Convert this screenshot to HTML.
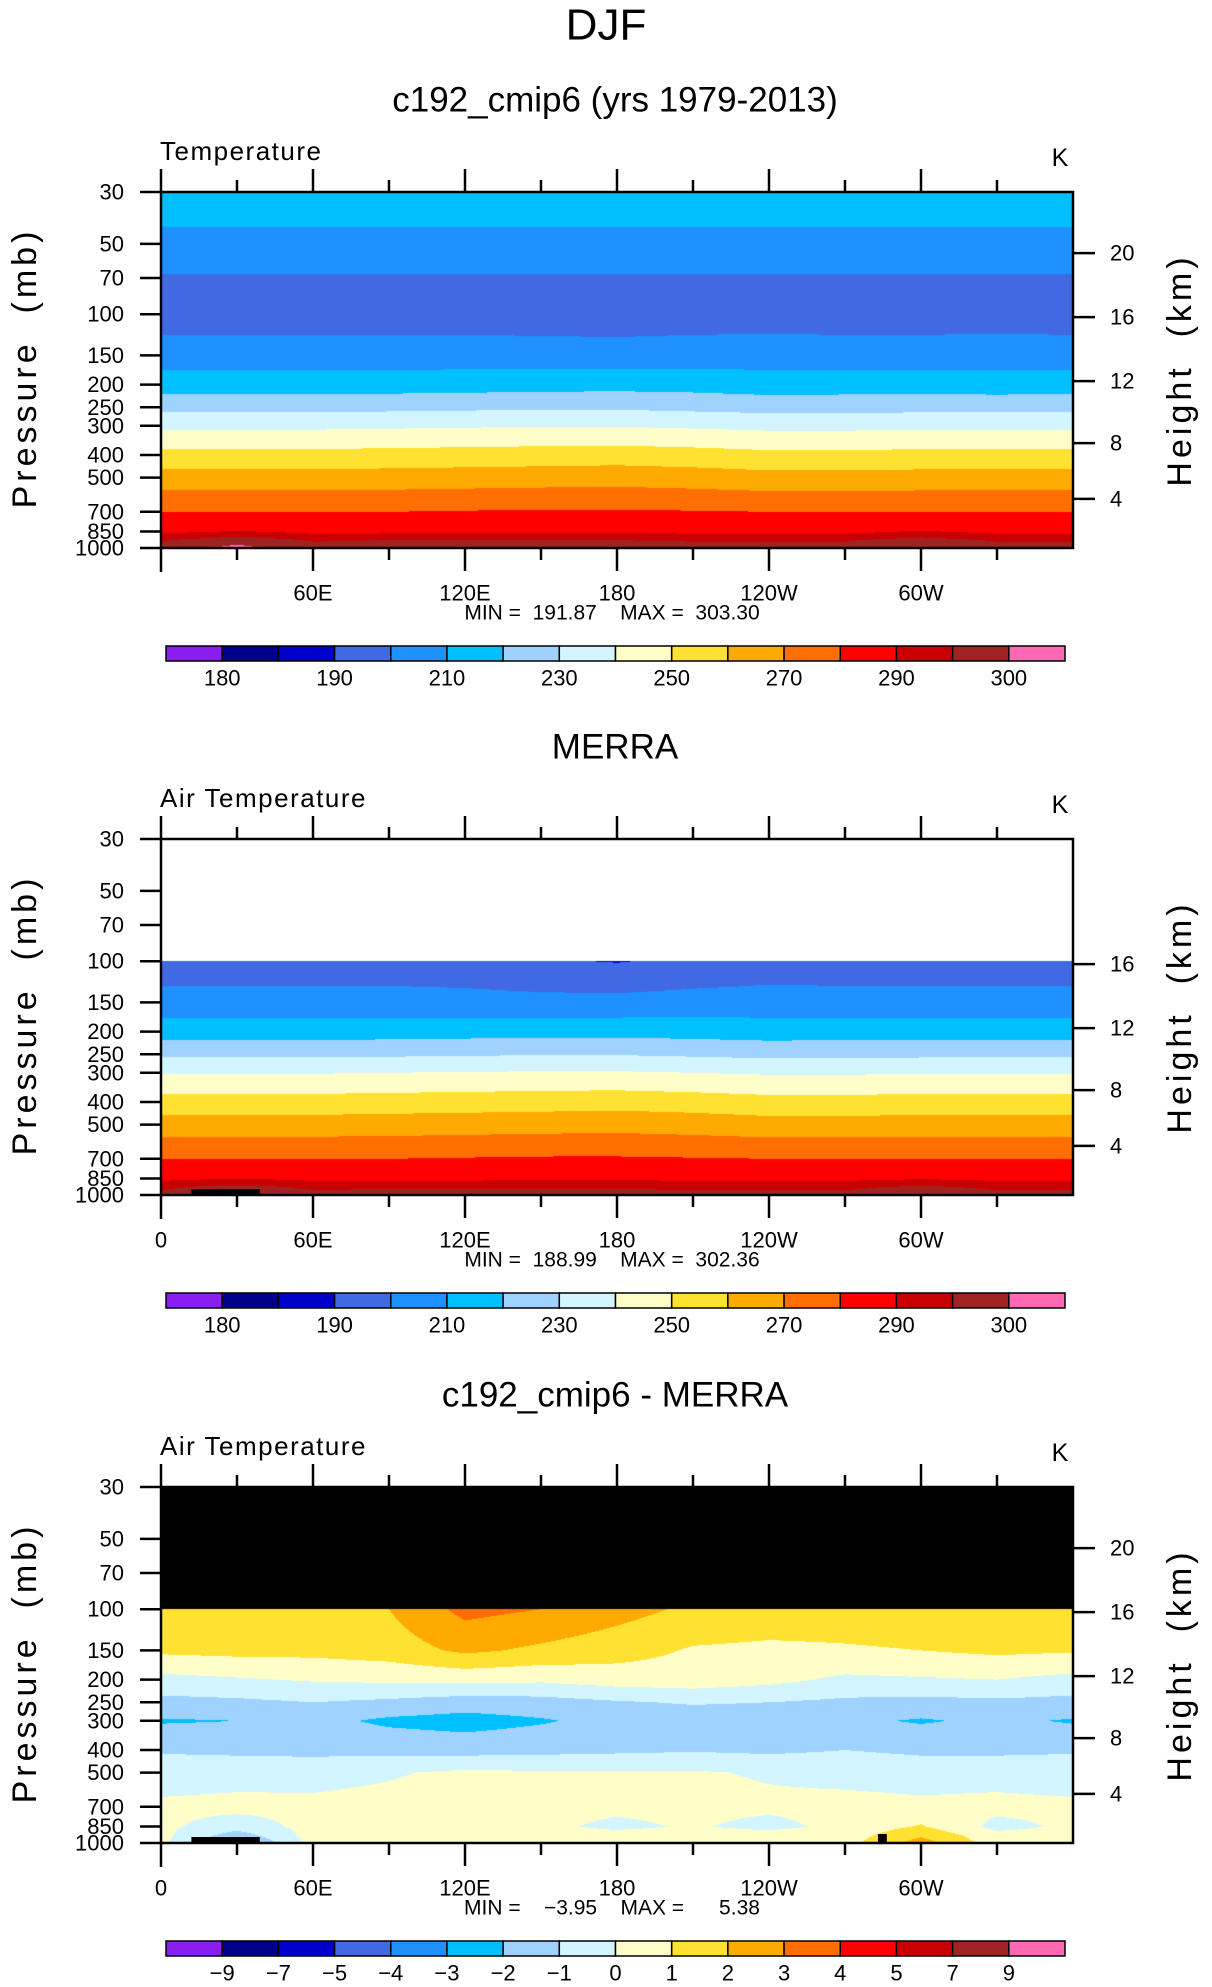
<!DOCTYPE html>
<html><head><meta charset="utf-8">
<style>
html,body{margin:0;padding:0;background:#fff;}
#root{position:relative;width:1212px;height:1987px;overflow:hidden;font-family:"Liberation Sans",sans-serif;}
canvas{position:absolute;}
svg{position:absolute;left:0;top:0;}
text{white-space:pre;}
</style></head>
<body>
<div id="root">
<canvas id="c1" width="912" height="356" style="left:161px;top:192px"></canvas>
<canvas id="c2" width="912" height="356" style="left:161px;top:839px"></canvas>
<canvas id="c3" width="912" height="356" style="left:161px;top:1487px"></canvas>
<svg id="ov" width="1212" height="1987"></svg>
</div>
<script>
// ---- data ----
const lons = [0,30,60,90,120,150,180,210,240,270,300,330,360];
const pressures = [30,50,70,100,150,200,250,300,400,500,700,850,925,1000];
const modelT = [
 [216,216,216,216,216,216,216,216,216,216,216,216,216],
 [207,207,207,207,207,207,207,207,207,207,207,207,207],
 [199,199,199,199,199,199,199,199,199,199,199,199,199],
 [195,195,195,195,195,195,195,195,195,195,195,195,195],
 [205,205,205,205,205,204.5,204,205,205.5,205,205,205.5,205],
 [215,215,215,215,215.5,216,216.5,216,214.5,215,215,214.5,215],
 [227,227,227,227.5,228,228.5,228.5,227.5,226.5,226.5,227,227,227],
 [238,238,238,238.5,239,239.5,239.5,238.5,237.5,237.5,238,238,238],
 [253,253,253,253.5,254,254.5,255,254,252.5,252.5,253,253,253],
 [264,264,264,264.5,265,265.5,266,265,263.5,263.5,264,264,264],
 [280,280,280,280,280.5,281,281,280.5,280,280,280,280,280],
 [288.5,290.5,288.5,288.5,288.5,289,289,288.5,288.5,288.5,290.5,288.5,288.5],
 [294.5,298,294.5,295,295,295,295,294.5,294.5,294.5,297,294.5,294.5],
 [297,301.5,297,297.5,297.5,297.5,297.5,297,297,297,300.5,297,297]
];
const merraT = [
 [null,null,null,null,null,null,null,null,null,null,null,null,null],
 [null,null,null,null,null,null,null,null,null,null,null,null,null],
 [null,null,null,null,null,null,null,null,null,null,null,null,null],
 [194,194,194,194,193.5,191,189.5,192,194,194,194,194,194],
 [204,204,204,204,203.5,203,203,204,204.5,204,204,204,204],
 [215.5,215.5,215.5,215.5,216,216.5,216.5,216,215,215.5,215.5,215,215.5],
 [228,228,228,228.5,229,229.5,229.5,228.5,227.5,227.5,228,228,228],
 [239.5,239.5,239.5,240,240.5,241,241,240,239,239,239.5,239.5,239.5],
 [254,254,254,254.5,255,255.5,256,255,253.5,253.5,254,254,254],
 [264.5,264.5,264.5,265,265.5,266,266.5,265.5,264,264,264.5,264.5,264.5],
 [280,280,280,280,280.5,281,281,280.5,280,280,280,280,280],
 [288.5,290,288.5,288.5,288.5,289,289,288.5,288.5,288.5,289.5,288.5,288.5],
 [294,297,294,294.5,294.5,294.5,294.5,294,294,294,296,294,294],
 [296.5,300.5,296.5,297,297,297,297,296.5,296.5,296.5,298.5,296.5,296.5]
];
const diffT = [
 [null,null,null,null,null,null,null,null,null,null,null,null,null],
 [null,null,null,null,null,null,null,null,null,null,null,null,null],
 [null,null,null,null,null,null,null,null,null,null,null,null,null],
 [1.5,1.6,1.7,2.0,3.3,3.0,2.4,1.8,1.6,1.5,1.6,1.8,1.5],
 [1.2,1.3,1.3,1.5,2.2,1.8,1.4,0.9,0.8,0.9,1.0,1.2,1.1],
 [-0.3,-0.1,0.1,0.2,0.3,0.2,0.5,0.6,0.3,-0.2,-0.1,0.0,-0.3],
 [-1.3,-1.2,-1.0,-1.2,-1.5,-1.4,-1.1,-0.9,-1.0,-1.2,-1.3,-1.2,-1.3],
 [-2.1,-2.0,-1.7,-2.2,-2.4,-2.1,-1.7,-1.6,-1.6,-1.8,-2.1,-1.8,-2.1],
 [-1.1,-1.2,-1.3,-1.3,-1.4,-1.3,-1.2,-1.1,-1.2,-1.0,-1.2,-1.2,-1.1],
 [-0.5,-0.4,-0.3,-0.1,0.2,0.1,0.1,0.1,-0.1,-0.3,-0.4,-0.4,-0.5],
 [0.2,0.3,0.2,0.3,0.4,0.3,0.2,0.3,0.2,0.3,0.2,0.3,0.2],
 [0.2,-0.5,0.3,0.1,0.3,0.2,-0.2,0.1,-0.3,0.3,1.1,-0.3,0.2],
 [0.3,-1.5,0.4,0.3,0.4,0.4,0.3,0.4,0.4,0.5,1.8,0.3,0.3],
 [0.3,-2.5,0.4,0.4,0.6,0.5,0.4,0.4,0.4,0.6,2.5,0.4,0.4]
];
const tempLevels = [180,185,190,200,210,220,230,240,250,260,270,280,290,295,300];
const tempLabels = ["180","","190","","210","","230","","250","","270","","290","","300"];
const diffLevels = [-9,-7,-5,-4,-3,-2,-1,0,1,2,3,4,5,7,9];
const diffLabels = ["−9","−7","−5","−4","−3","−2","−1","0","1","2","3","4","5","7","9"];
const palette = ["#8a1ef0","#00008c","#0000cd","#4169e1","#1e90ff","#00bfff","#a0d2ff","#d2f5ff","#fffdc8","#ffe132","#ffaa00","#ff6e00","#ff0000","#c80000","#a02323","#ff69b4"];
const pTicks = [30,50,70,100,150,200,250,300,400,500,700,850,1000];
const lonTicks = [0,60,120,180,240,300];
const lonTickLabels = ["0","60E","120E","180","120W","60W"];
const kmTicks1 = [4,8,12,16,20];
const kmTicks2 = [4,8,12,16];

// ---- geometry ----
const X0=161, W=912, H=356, PT=30, PB=1000;
const L=Math.log(PB/PT);
function yOfP(p){return Math.log(p/PT)/L*H;}
function xOfLon(l){return l/360*W;}
function pOfKm(z){ if(z<=11) return 1013.25*Math.pow(1-2.25577e-5*z*1000,5.25588); return 226.32*Math.exp(-(z-11)*1000/6341.6);}

function hex(c){return [parseInt(c.substr(1,2),16),parseInt(c.substr(3,2),16),parseInt(c.substr(5,2),16)];}
const rgb = palette.map(hex);

function drawField(id, grid, levels, missing){
  const cv=document.getElementById(id), ctx=cv.getContext('2d');
  const img=ctx.createImageData(W,H), d=img.data;
  const lp=pressures.map(p=>Math.log(p));
  for(let py=0;py<H;py++){
    const lnp=Math.log(PT)+(py+0.5)/H*L;
    let j=0; while(j<lp.length-2 && lnp>lp[j+1]) j++;
    const fy=Math.min(1,Math.max(0,(lnp-lp[j])/(lp[j+1]-lp[j])));
    for(let px=0;px<W;px++){
      const lon=(px+0.5)/W*360;
      let i=0; while(i<lons.length-2 && lon>lons[i+1]) i++;
      const fx=(lon-lons[i])/(lons[i+1]-lons[i]);
      const a=grid[j][i],b=grid[j][i+1],c=grid[j+1][i],e=grid[j+1][i+1];
      let col;
      if(a===null||b===null||c===null||e===null){col=missing;}
      else{
        const v=(a*(1-fx)+b*fx)*(1-fy)+(c*(1-fx)+e*fx)*fy;
        let k=0; while(k<levels.length && v>=levels[k]) k++;
        col=rgb[k];
      }
      const o=(py*W+px)*4; d[o]=col[0];d[o+1]=col[1];d[o+2]=col[2];d[o+3]=255;
    }
  }
  ctx.putImageData(img,0,0);
}
drawField('c1',modelT,tempLevels,[255,255,255]);
drawField('c2',merraT,tempLevels,[255,255,255]);
drawField('c3',diffT,diffLevels,[0,0,0]);

// ---- overlay ----
const svg=document.getElementById('ov'), NS="http://www.w3.org/2000/svg";
function el(tag,attrs,parent){const e=document.createElementNS(NS,tag);for(const k in attrs)e.setAttribute(k,attrs[k]);(parent||svg).appendChild(e);return e;}
function txt(s,x,y,size,anchor,parent,extra){const t=el('text',Object.assign({x:x,y:y,'font-size':size,'text-anchor':anchor||'middle','dominant-baseline':'central','font-family':'Liberation Sans, sans-serif',fill:'#000'},extra||{}),parent);t.textContent=s;return t;}

const dj=txt("DJF",606,25,44,'middle');



const panels=[
 {top:192,title:"c192_cmip6 (yrs 1979-2013)",left:"Temperature",minmax:"MIN =  191.87    MAX =  303.30",levels:tempLabels,zero:false,km:kmTicks1,mask:false,name:"model"},
 {top:839,title:"MERRA",left:"Air Temperature",minmax:"MIN =  188.99    MAX =  302.36",levels:tempLabels,zero:true,km:kmTicks2,mask:true,name:"merra"},
 {top:1487,title:"c192_cmip6 - MERRA",left:"Air Temperature",minmax:"MIN =    −3.95    MAX =      5.38",levels:diffLabels,zero:true,km:kmTicks1,mask:true,name:"difference"}
];
panels.forEach((P,pi)=>{
  const g=el('g',{});
  
  
  const T=P.top;
  let t=txt(P.title,615,T-92,35,'middle',g);
  
  
  t=txt(P.left,160,T-41,26,'start',g,{'letter-spacing':'1.5'});
  
  
  t=txt("K",1060,T-34,25,'middle',g);
  
  
  if(P.mask){
    const r1=el('rect',{x:X0+xOfLon(12),y:T+H-6,width:xOfLon(27),height:6,fill:'#000'},g);
    
    
    if(pi===2){
      const r2=el('rect',{x:X0+xOfLon(283),y:T+H-9,width:xOfLon(3.5),height:9,fill:'#000'},g);
      
      
    }
  }
  const fr=el('rect',{x:X0,y:T,width:W,height:H,fill:'none',stroke:'#000','stroke-width':2.5},g);
  
  
  for(let l=0;l<=360;l+=30){
    const x=X0+xOfLon(l), major=(l%60===0);
    if(l===360) continue;
    if(l===0){el('line',{x1:x,y1:T-23,x2:x,y2:T,stroke:'#000','stroke-width':2.5},g);el('line',{x1:x,y1:T+H,x2:x,y2:T+H+24,stroke:'#000','stroke-width':2.5},g);continue;}
    const len=major?23:12;
    el('line',{x1:x,y1:T-len,x2:x,y2:T,stroke:'#000','stroke-width':2.5},g);
    el('line',{x1:x,y1:T+H,x2:x,y2:T+H+len,stroke:'#000','stroke-width':2.5},g);
  }
  lonTicks.forEach((l,k)=>{
    if(l===0&&!P.zero) return;
    const t=txt(lonTickLabels[k],X0+xOfLon(l),T+H+45,22,'middle',g);
    
    
  });
  t=txt(P.minmax,612,T+H+65,21,'middle',g);
  
  
  pTicks.forEach(p=>{
    const y=T+yOfP(p);
    el('line',{x1:X0-21,y1:y,x2:X0,y2:y,stroke:'#000','stroke-width':2.5},g);
    const t=txt(String(p),124,y,22,'end',g);
    
    
  });
  P.km.forEach(z=>{
    const y=T+yOfP(pOfKm(z));
    el('line',{x1:X0+W,y1:y,x2:X0+W+22,y2:y,stroke:'#000','stroke-width':2.5},g);
    const t=txt(String(z),1110,y,22,'start',g);
    
    
  });
  t=txt("Pressure  (mb)",25,T+176,34,'middle',g,{transform:`rotate(-90 25 ${T+176})`,'letter-spacing':'4'});
  
  
  t=txt("Height  (km)",1180,T+178,34,'middle',g,{transform:`rotate(-90 1180 ${T+178})`,'letter-spacing':'4'});
  
  
  const cb=el('g',{},g);
  
  
  const cx0=166,cw=899/16,cy=T+454;
  palette.forEach((c,k)=>{
    const r=el('rect',{x:cx0+k*cw,y:cy,width:cw,height:15,fill:c,stroke:'#000','stroke-width':1.5},cb);
    
    
  });
  P.levels.forEach((s,k)=>{
    if(!s) return;
    const t=txt(s,cx0+(k+1)*cw,cy+32,22,'middle',cb);
    
    
  });
});
</script>
</body></html>
